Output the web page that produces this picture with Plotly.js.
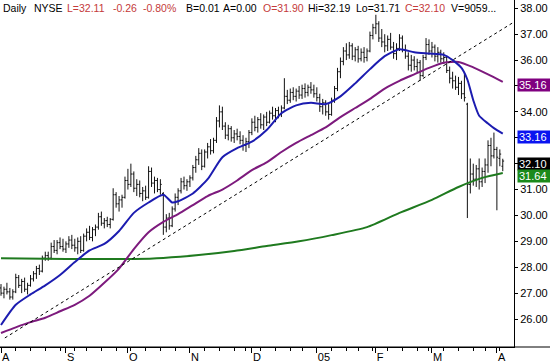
<!DOCTYPE html>
<html><head><meta charset="utf-8">
<script src="https://cdn.plot.ly/plotly-3.0.1.min.js"></script>
<style>html,body{margin:0;padding:0;background:#fff;}#chart{width:550px;height:363px;}</style>
</head><body><div id="chart"></div>
<script>
// ---- data ----
const monthLabels = ['A','S','O','N','D','05','F','M','A'];
const monthStarts = [0,22,43,64,85,107,127,146,168];
const weekStarts = [0,5,10,15,20,25,29,34,39,44,49,54,59,64,69,74,79,83,88,93,98,102,107,112,117,121,126,131,136,141,145,150,155,160,164,169];
const priceTicks = [26,27,28,29,30,31,32,33,34,35,36,37,38];

const openP = [27.20,27.00,27.15,27.05,26.85,27.05,27.60,27.30,27.45,27.15,27.30,27.55,27.75,27.95,27.85,28.35,28.45,28.35,28.80,28.65,
28.95,28.80,28.70,28.90,29.05,28.85,28.75,29.00,28.65,29.20,29.35,29.15,29.45,29.55,29.95,29.70,29.80,29.65,29.85,30.80,
30.45,30.60,30.70,31.35,31.20,31.60,31.05,31.20,30.85,30.95,30.70,31.70,31.25,31.35,31.00,30.85,29.55,29.90,29.60,30.25,
30.70,30.95,31.30,31.15,31.30,31.45,31.85,32.15,32.40,31.90,32.45,32.65,32.50,32.90,33.65,34.00,33.45,33.10,33.35,33.00,
33.15,33.05,32.90,32.70,32.85,33.20,33.60,33.40,33.70,33.50,33.80,33.60,33.95,33.85,34.05,33.90,34.15,34.60,34.45,34.75,
34.60,34.80,34.65,34.90,34.75,34.95,34.85,34.70,34.55,34.20,34.35,34.00,33.90,34.45,34.90,35.55,35.95,36.35,36.20,36.55,
36.15,36.40,36.05,36.30,36.10,36.35,36.95,37.25,37.40,36.85,36.70,36.55,36.80,36.50,36.25,36.45,36.85,36.40,36.15,35.80,
36.00,35.75,35.90,35.40,36.10,36.60,36.35,36.50,36.15,36.30,36.05,36.10,35.60,35.30,35.20,34.95,35.10,34.70,34.30,31.20,
31.60,31.40,31.80,31.30,31.70,31.95,32.70,32.30,32.55,32.20,31.90];
const highP = [27.35,27.25,27.40,27.20,27.15,27.75,27.70,27.55,27.60,27.40,27.70,27.85,28.05,28.10,28.45,28.60,28.60,28.95,29.05,29.05,
29.15,29.10,29.00,29.20,29.25,29.10,29.15,29.20,29.30,29.50,29.60,29.55,29.65,30.10,30.15,29.90,29.95,29.90,31.05,30.90,
30.75,30.80,31.50,31.80,32.00,31.70,31.40,31.35,31.10,31.15,31.90,31.85,31.50,31.45,31.40,30.90,30.05,30.10,30.35,30.85,
31.05,31.45,31.50,31.40,31.55,31.95,32.30,32.60,32.55,32.55,32.80,32.95,33.00,33.80,34.25,34.20,33.60,33.50,33.45,33.30,
33.35,33.25,33.10,33.00,33.30,33.75,33.85,33.80,33.95,33.90,34.00,34.05,34.20,34.15,34.20,34.25,35.30,34.85,34.90,34.95,
34.90,35.00,35.05,35.10,35.05,35.15,35.05,34.95,34.70,34.50,34.45,34.30,34.55,35.00,35.70,36.10,36.50,36.65,36.70,36.65,
36.50,36.55,36.45,36.50,36.45,37.10,37.40,37.75,37.50,37.20,37.00,36.95,37.05,36.70,36.65,37.00,36.95,36.60,36.30,36.20,
36.15,36.05,36.00,36.20,36.85,36.80,36.70,36.60,36.50,36.40,36.30,36.15,35.75,35.55,35.40,35.35,35.20,35.50,34.35,32.20,
32.00,31.95,32.20,31.85,32.20,32.90,33.00,33.20,32.65,32.55,32.19];
const lowP = [26.90,26.80,26.95,26.75,26.75,27.00,27.20,27.00,27.05,26.95,27.25,27.45,27.55,27.70,27.80,28.25,28.25,28.30,28.55,28.50,
28.70,28.60,28.55,28.75,28.70,28.60,28.50,28.55,28.60,29.00,29.05,29.00,29.20,29.45,29.60,29.50,29.55,29.50,29.80,30.30,
30.15,30.30,30.65,31.00,31.10,30.90,30.75,30.70,30.55,30.60,30.65,31.10,30.85,30.90,30.80,29.25,29.35,29.45,29.55,30.15,
30.40,30.85,31.00,30.95,31.10,31.35,31.65,31.95,31.75,31.85,32.20,32.35,32.40,32.80,33.40,33.30,32.95,32.90,32.85,32.80,
32.90,32.75,32.50,32.45,32.60,33.10,33.25,33.20,33.35,33.30,33.45,33.55,33.70,33.60,33.75,33.80,34.10,34.30,34.35,34.45,
34.40,34.50,34.50,34.55,34.60,34.70,34.55,34.40,34.00,33.90,33.85,33.70,33.85,34.35,34.80,35.30,35.80,36.00,36.05,36.00,
35.95,35.90,35.95,35.90,35.95,36.30,36.80,37.00,36.70,36.50,36.30,36.35,36.40,36.05,36.00,36.35,36.30,36.05,35.60,35.55,
35.60,35.50,35.20,35.35,36.00,36.20,36.10,35.95,35.90,35.90,35.85,35.50,35.10,34.90,34.85,34.65,34.50,34.40,29.90,30.85,
31.15,31.10,31.00,31.10,31.25,31.65,31.90,32.20,30.20,31.90,31.71];
const closeP = [27.00,27.15,27.05,26.85,27.05,27.60,27.30,27.45,27.15,27.30,27.55,27.75,27.95,27.85,28.35,28.45,28.35,28.80,28.65,28.95,
28.80,28.70,28.90,29.05,28.85,28.75,29.00,28.65,29.20,29.35,29.15,29.45,29.55,29.95,29.70,29.80,29.65,29.85,30.80,30.45,
30.60,30.70,31.35,31.20,31.60,31.05,31.20,30.85,30.95,30.70,31.70,31.25,31.35,31.00,31.20,29.55,29.90,29.60,30.25,30.70,
30.95,31.30,31.15,31.30,31.45,31.85,32.15,32.40,31.90,32.45,32.65,32.50,32.90,33.65,34.00,33.45,33.10,33.35,33.00,33.15,
33.05,32.90,32.70,32.85,33.20,33.60,33.40,33.70,33.50,33.80,33.60,33.95,33.85,34.05,33.90,34.15,34.60,34.45,34.75,34.60,
34.80,34.65,34.90,34.75,34.95,34.85,34.70,34.55,34.20,34.35,34.00,33.90,34.45,34.90,35.55,35.95,36.35,36.20,36.55,36.15,
36.40,36.05,36.30,36.10,36.35,36.95,37.25,37.40,36.85,36.70,36.55,36.80,36.50,36.25,36.45,36.85,36.40,36.15,35.80,36.00,
35.75,35.90,35.40,36.10,36.60,36.35,36.50,36.15,36.30,36.05,36.10,35.60,35.30,35.20,34.95,35.10,34.70,34.55,31.20,31.60,
31.40,31.80,31.30,31.70,31.95,32.70,32.30,32.55,32.25,32.37,32.10];

// moving averages (day index, value)
const maShortDay = [0,5,10,15,20,25,30,35,40,45,50,55,58,60,65,70,75,80,85,90,95,100,105,110,115,120,125,130,135,140,145,150,153,156,158,160,162,165,167,170];
const maShortVal = [25.77,26.55,26.95,27.30,27.70,28.20,28.65,28.90,29.40,30.10,30.50,30.80,30.50,30.55,30.85,31.40,32.25,32.60,32.85,33.30,33.95,34.25,34.35,34.30,34.60,35.10,35.65,36.15,36.42,36.30,36.25,36.20,36.00,35.70,35.25,34.45,33.85,33.55,33.37,33.16];
const maMidDay = [0,5,10,15,20,25,30,35,40,45,50,55,60,65,70,75,80,85,90,95,100,105,110,115,120,125,130,135,140,145,150,155,160,165,170];
const maMidVal = [25.46,25.68,25.88,26.05,26.30,26.55,26.90,27.40,27.95,28.70,29.35,29.75,30.05,30.40,30.75,31.00,31.35,31.75,32.05,32.45,32.80,33.10,33.40,33.80,34.15,34.50,34.90,35.20,35.45,35.70,35.90,35.93,35.72,35.45,35.16];
const maLongDay = [0,22,45,55,67,79,90,101,112,124,135,146,155,163,170];
const maLongVal = [28.35,28.32,28.32,28.36,28.47,28.63,28.82,29.00,29.24,29.55,30.10,30.60,31.10,31.45,31.64];
const trendDay = [1.3,173.8];
const trendVal = [25.27,37.47];

const lastShort = 33.16, lastMid = 35.16, lastClose = 32.10, lastLong = 31.64;

const headerParts = ['Daily','NYSE','L=32.11','-0.26','-0.80%','B=0.01','A=0.00','O=31.90','Hi=32.19','Lo=31.71','C=32.10','V=9059...'];

// ---- chart ----
const RED = '#c43a3a';
const headerColors = ['#000','#000',RED,RED,RED,'#000','#000',RED,'#000','#000',RED,'#000'];
const headerPx = [2,33,66,112,142,185,222,262,307,355,404,450];
const plotW = 514, plotH = 347;

const dayIndex = closeP.map((_, i) => i);
const bar = {color:'#111', width:1};
const traces = [
  {type:'ohlc', x:dayIndex, open:openP, high:highP, low:lowP, close:closeP,
   increasing:{line:bar}, decreasing:{line:bar}, tickwidth:0.45, hoverinfo:'skip'},
  {type:'scatter', mode:'lines', x:maLongDay, y:maLongVal, line:{color:'#1f7a1f', width:2, shape:'spline', smoothing:0.6}, hoverinfo:'skip'},
  {type:'scatter', mode:'lines', x:maMidDay, y:maMidVal, line:{color:'#7d1a7d', width:2, shape:'spline', smoothing:0.6}, hoverinfo:'skip'},
  {type:'scatter', mode:'lines', x:maShortDay, y:maShortVal, line:{color:'#1c1cb0', width:2, shape:'spline', smoothing:0.6}, hoverinfo:'skip'},
  {type:'scatter', mode:'lines', x:trendDay, y:trendVal, line:{color:'#000', width:1, dash:'3px,3px'}, hoverinfo:'skip'}
];

const annotations = headerParts.map((t, k) => ({
  text:t, xref:'paper', yref:'paper', x:(headerPx[k]-1)/plotW, y:1 - 8/plotH,
  xanchor:'left', yanchor:'middle', showarrow:false,
  font:{color:headerColors[k], size:10.5}
}));
const valueLabels = [
  [lastMid, '#800080'], [lastShort, '#0a14f0'], [lastClose, '#000000'], [lastLong, '#1b8a1b']
];
valueLabels.forEach(([v, c]) => annotations.push({
  text:v.toFixed(2), xref:'paper', yref:'y', x:517/plotW, y:v, yshift:-3,
  xanchor:'left', yanchor:'middle', showarrow:false, align:'left',
  width:31, height:10, borderpad:1, bgcolor:c, font:{color:'#fff', size:11}
}));

const layout = {
  width:550, height:363,
  margin:{l:0, r:36, t:0, b:16, pad:0},
  paper_bgcolor:'#fff', plot_bgcolor:'#fff', showlegend:false,
  font:{family:'"Liberation Sans", Arial, sans-serif', size:11, color:'#000'},
  xaxis:{range:[-0.34,173.8], tickmode:'array', tickvals:monthStarts, ticktext:monthLabels,
    ticks:'outside', ticklen:5, tickcolor:'#000', tickwidth:1, ticklabelposition:'outside right',
    showline:true, linecolor:'#000', linewidth:1, showgrid:false, zeroline:false,
    rangeslider:{visible:false}, fixedrange:true,
    minor:{tickmode:'array', tickvals:weekStarts, ticks:'outside', ticklen:3, tickcolor:'#000', tickwidth:1, showgrid:false}},
  yaxis:{side:'right', range:[24.92,38.32], tickmode:'array', tickvals:priceTicks,
    ticktext:priceTicks.map(v => v.toFixed(2)),
    ticks:'outside', ticklen:3, tickcolor:'#000', tickwidth:1,
    showline:true, linecolor:'#000', linewidth:1, showgrid:false, zeroline:false, fixedrange:true},
  shapes:[{type:'line', xref:'paper', yref:'paper', x0:0, x1:550/plotW, y0:0, y1:0, line:{color:'#000', width:1}}],
  annotations:annotations
};
Plotly.newPlot('chart', traces, layout, {staticPlot:true, displayModeBar:false});
</script>
</body></html>
